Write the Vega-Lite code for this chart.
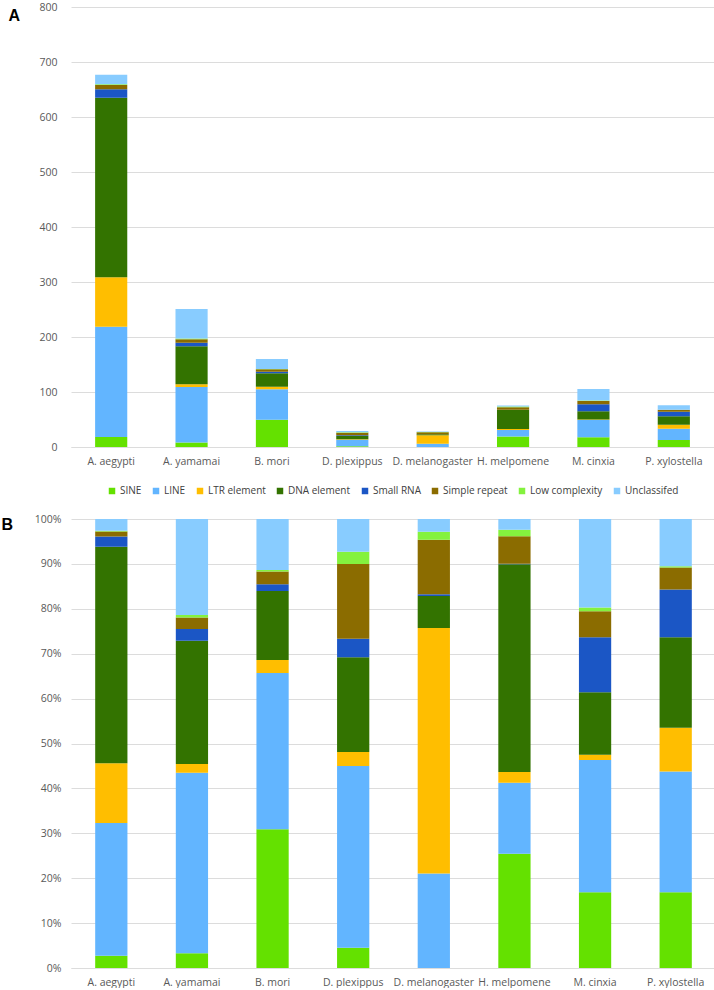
{
  "$schema": "https://vega.github.io/schema/vega-lite/v6.json",
  "background": "white",
  "padding": {"left": 1, "top": 2, "right": 0, "bottom": 0},
  "spacing": 18,
  "datasets": {
    "repeats": [
      {"species": "A. aegypti", "type": "SINE", "count": 18.3},
      {"species": "A. aegypti", "type": "LINE", "count": 200.4},
      {"species": "A. aegypti", "type": "LTR element", "count": 90.0},
      {"species": "A. aegypti", "type": "DNA element", "count": 326.3},
      {"species": "A. aegypti", "type": "Small RNA", "count": 15.6},
      {"species": "A. aegypti", "type": "Simple repeat", "count": 7.4},
      {"species": "A. aegypti", "type": "Low complexity", "count": 1.4},
      {"species": "A. aegypti", "type": "Unclassifed", "count": 17.6},
      {"species": "A. yamamai", "type": "SINE", "count": 8.3},
      {"species": "A. yamamai", "type": "LINE", "count": 100.9},
      {"species": "A. yamamai", "type": "LTR element", "count": 4.8},
      {"species": "A. yamamai", "type": "DNA element", "count": 69.0},
      {"species": "A. yamamai", "type": "Small RNA", "count": 6.5},
      {"species": "A. yamamai", "type": "Simple repeat", "count": 6.5},
      {"species": "A. yamamai", "type": "Low complexity", "count": 1.3},
      {"species": "A. yamamai", "type": "Unclassifed", "count": 53.7},
      {"species": "B. mori", "type": "SINE", "count": 49.4},
      {"species": "B. mori", "type": "LINE", "count": 55.7},
      {"species": "B. mori", "type": "LTR element", "count": 4.6},
      {"species": "B. mori", "type": "DNA element", "count": 24.6},
      {"species": "B. mori", "type": "Small RNA", "count": 2.4},
      {"species": "B. mori", "type": "Simple repeat", "count": 4.5},
      {"species": "B. mori", "type": "Low complexity", "count": 0.5},
      {"species": "B. mori", "type": "Unclassifed", "count": 18.2},
      {"species": "D. plexippus", "type": "SINE", "count": 1.3},
      {"species": "D. plexippus", "type": "LINE", "count": 11.7},
      {"species": "D. plexippus", "type": "LTR element", "count": 0.9},
      {"species": "D. plexippus", "type": "DNA element", "count": 6.1},
      {"species": "D. plexippus", "type": "Small RNA", "count": 1.2},
      {"species": "D. plexippus", "type": "Simple repeat", "count": 4.8},
      {"species": "D. plexippus", "type": "Low complexity", "count": 0.8},
      {"species": "D. plexippus", "type": "Unclassifed", "count": 2.1},
      {"species": "D. melanogaster", "type": "SINE", "count": 0},
      {"species": "D. melanogaster", "type": "LINE", "count": 5.9},
      {"species": "D. melanogaster", "type": "LTR element", "count": 15.3},
      {"species": "D. melanogaster", "type": "DNA element", "count": 2.0},
      {"species": "D. melanogaster", "type": "Small RNA", "count": 0.1},
      {"species": "D. melanogaster", "type": "Simple repeat", "count": 3.4},
      {"species": "D. melanogaster", "type": "Low complexity", "count": 0.5},
      {"species": "D. melanogaster", "type": "Unclassifed", "count": 0.8},
      {"species": "H. melpomene", "type": "SINE", "count": 19.2},
      {"species": "H. melpomene", "type": "LINE", "count": 11.9},
      {"species": "H. melpomene", "type": "LTR element", "count": 1.8},
      {"species": "H. melpomene", "type": "DNA element", "count": 34.9},
      {"species": "H. melpomene", "type": "Small RNA", "count": 0.1},
      {"species": "H. melpomene", "type": "Simple repeat", "count": 4.6},
      {"species": "H. melpomene", "type": "Low complexity", "count": 1.1},
      {"species": "H. melpomene", "type": "Unclassifed", "count": 1.8},
      {"species": "M. cinxia", "type": "SINE", "count": 17.8},
      {"species": "M. cinxia", "type": "LINE", "count": 31.1},
      {"species": "M. cinxia", "type": "LTR element", "count": 1.2},
      {"species": "M. cinxia", "type": "DNA element", "count": 14.7},
      {"species": "M. cinxia", "type": "Small RNA", "count": 12.9},
      {"species": "M. cinxia", "type": "Simple repeat", "count": 6.1},
      {"species": "M. cinxia", "type": "Low complexity", "count": 0.9},
      {"species": "M. cinxia", "type": "Unclassifed", "count": 20.8},
      {"species": "P. xylostella", "type": "SINE", "count": 12.8},
      {"species": "P. xylostella", "type": "LINE", "count": 20.4},
      {"species": "P. xylostella", "type": "LTR element", "count": 7.4},
      {"species": "P. xylostella", "type": "DNA element", "count": 15.3},
      {"species": "P. xylostella", "type": "Small RNA", "count": 8.1},
      {"species": "P. xylostella", "type": "Simple repeat", "count": 3.7},
      {"species": "P. xylostella", "type": "Low complexity", "count": 0.2},
      {"species": "P. xylostella", "type": "Unclassifed", "count": 8.0}
    ]
  },
  "config": {
    "view": {"stroke": null},
    "font": "Open Sans",
    "axis": {
      "labelColor": "#595959",
      "labelFontSize": 10.5,
      "labelFont": "Open Sans",
      "gridColor": "#dcdcdc",
      "gridWidth": 1,
      "ticks": false
    }
  },
  "resolve": {"legend": {"color": "independent"}},
  "vconcat": [
    {
      "width": 643,
      "height": 440,
      "data": {"name": "repeats"},
      "transform": [
        {"calculate": "indexof(['SINE','LINE','LTR element','DNA element','Small RNA','Simple repeat','Low complexity','Unclassifed'], datum.type)", "as": "stackRank"}
      ],
      "mark": {"type": "bar"},
      "encoding": {
        "x": {
          "field": "species", "type": "nominal", "sort": null,
          "scale": {"paddingInner": 0.6, "paddingOuter": 0.3},
          "axis": {"title": null, "labelAngle": 0, "domainColor": "#dcdcdc", "labelPadding": 9, "grid": false}
        },
        "y": {
          "field": "count", "type": "quantitative", "stack": "zero",
          "scale": {"domain": [0, 800], "nice": false},
          "axis": {
            "values": [0, 100, 200, 300, 400, 500, 600, 700, 800],
            "domain": false, "labelPadding": 14,
            "title": "A", "titleAngle": 0, "titleAlign": "left", "titleBaseline": "top",
            "titleX": -63, "titleY": 0, "titleFontSize": 16, "titleFontWeight": "bold",
            "titleFont": "Liberation Sans", "titleColor": "#000000"
          }
        },
        "order": {"field": "stackRank", "type": "quantitative", "sort": "ascending"},
        "color": {
          "field": "type", "type": "nominal",
          "sort": ["SINE", "LINE", "LTR element", "DNA element", "Small RNA", "Simple repeat", "Low complexity", "Unclassifed"],
          "scale": {"range": ["#64E100", "#62B5FF", "#FFBE00", "#337300", "#1B56C5", "#8B6C00", "#84F23E", "#88CCFF"]},
          "legend": {
            "orient": "none", "legendX": 36, "legendY": 479, "direction": "horizontal",
            "title": null, "symbolType": "square", "symbolSize": 42, "symbolStrokeWidth": 0,
            "labelFontSize": 10, "labelFont": "Open Sans", "labelColor": "#404040",
            "columnPadding": 9, "labelOffset": 3, "padding": 0
          }
        }
      }
    },
    {
      "width": 645,
      "height": 449,
      "data": {"name": "repeats"},
      "transform": [
        {"calculate": "indexof(['SINE','LINE','LTR element','DNA element','Small RNA','Simple repeat','Low complexity','Unclassifed'], datum.type)", "as": "stackRank"}
      ],
      "mark": {"type": "bar"},
      "encoding": {
        "x": {
          "field": "species", "type": "nominal", "sort": null,
          "scale": {"paddingInner": 0.6, "paddingOuter": 0.3},
          "axis": {"title": null, "labelAngle": 0, "domainColor": "#dcdcdc", "labelPadding": 9, "grid": false}
        },
        "y": {
          "field": "count", "type": "quantitative", "stack": "normalize",
          "scale": {"domain": [0, 1], "nice": false},
          "axis": {
            "values": [0, 0.1, 0.2, 0.3, 0.4, 0.5, 0.6, 0.7, 0.8, 0.9, 1],
            "format": ".0%", "domain": false, "labelPadding": 10,
            "title": "B", "titleAngle": 0, "titleAlign": "left", "titleBaseline": "top",
            "titleX": -70, "titleY": -3, "titleFontSize": 16, "titleFontWeight": "bold",
            "titleFont": "Liberation Sans", "titleColor": "#000000"
          }
        },
        "order": {"field": "stackRank", "type": "quantitative", "sort": "ascending"},
        "color": {
          "field": "type", "type": "nominal",
          "sort": ["SINE", "LINE", "LTR element", "DNA element", "Small RNA", "Simple repeat", "Low complexity", "Unclassifed"],
          "scale": {"range": ["#64E100", "#62B5FF", "#FFBE00", "#337300", "#1B56C5", "#8B6C00", "#84F23E", "#88CCFF"]},
          "legend": null
        }
      }
    }
  ]
}
